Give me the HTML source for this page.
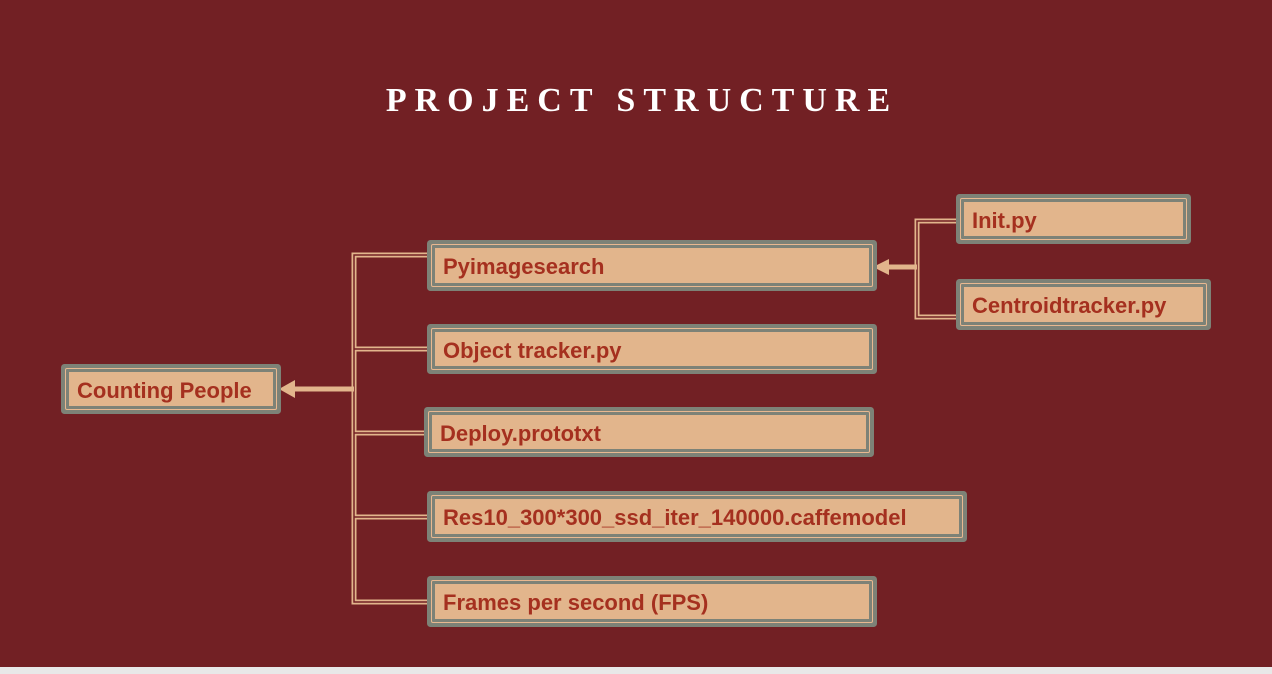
<!DOCTYPE html>
<html><head><style>
*{margin:0;padding:0;box-sizing:border-box}
body{width:1272px;height:674px;background:#722024;position:relative;overflow:hidden;font-family:"Liberation Sans",sans-serif}
.t{position:absolute;top:82px;left:6px;width:1272px;text-align:center;color:#fff;font-family:"Liberation Serif",serif;font-weight:bold;font-size:34px;letter-spacing:8px}
.b{position:absolute;background:#e2b58c;border:3px solid #7d8277;box-shadow:0 0 0 1px #e8b890,0 0 0 5px #7d8277;border-radius:1px;color:#a5301f;font-size:22px;font-weight:bold;line-height:1;padding-left:8px;padding-top:3px;display:flex;align-items:center}
.strip{position:absolute;left:0;top:667px;width:1272px;height:7px;background:#e8e8e8}
</style></head><body>
<div class="t">PROJECT STRUCTURE</div>
<svg width="1272" height="674" style="position:absolute;left:0;top:0">
<g fill="none" stroke="#e2b58c" stroke-width="5">
<path d="M434 255 H354 V602 H434"/>
<path d="M354 349 H434 M354 433 H430 M354 517 H434"/>
<path d="M962 221 H917 V317 H962"/>
</g>
<g fill="none" stroke="#722024" stroke-width="1.5">
<path d="M434 255 H354 V602 H434"/>
<path d="M354 349 H434 M354 433 H430 M354 517 H434"/>
<path d="M962 221 H917 V317 H962"/>
</g>
<path d="M354 389 H292" stroke="#e2b58c" stroke-width="5"/>
<polygon points="279,389 295,380 295,398" fill="#e2b58c"/>
<path d="M917 267 H886" stroke="#e2b58c" stroke-width="5"/>
<polygon points="873,267 889,259 889,275" fill="#e2b58c"/>
</svg>
<div class="b" style="left:66px;top:369px;width:210px;height:40px">Counting People</div>
<div class="b" style="left:432px;top:245px;width:440px;height:41px">Pyimagesearch</div>
<div class="b" style="left:432px;top:329px;width:440px;height:40px">Object tracker.py</div>
<div class="b" style="left:429px;top:412px;width:440px;height:40px">Deploy.prototxt</div>
<div class="b" style="left:432px;top:496px;width:530px;height:41px">Res10_300*300_ssd_iter_140000.caffemodel</div>
<div class="b" style="left:432px;top:581px;width:440px;height:41px">Frames per second (FPS)</div>
<div class="b" style="left:961px;top:199px;width:225px;height:40px">Init.py</div>
<div class="b" style="left:961px;top:284px;width:245px;height:41px">Centroidtracker.py</div>
<div class="strip"></div>
</body></html>
